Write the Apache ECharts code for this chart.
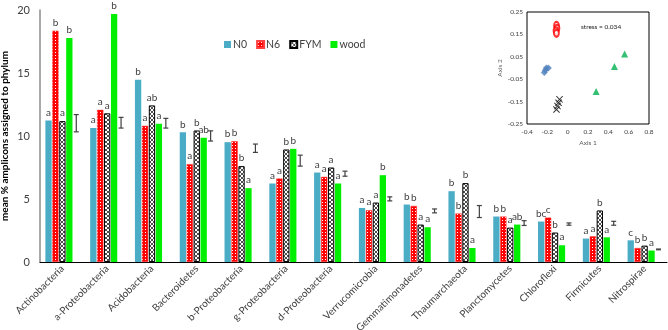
<!DOCTYPE html>
<html>
<head>
<meta charset="utf-8">
<script src="https://cdn.jsdelivr.net/npm/echarts@6/dist/echarts.min.js"></script>
<style>
  html, body { margin: 0; padding: 0; background: #fff; }
  #chart { width: 668px; height: 330px; }
</style>
</head>
<body>
<div id="chart"></div>
<script>
// phyla on the x axis
var categories = ["Actinobacteria", "a-Proteobacteria", "Acidobacteria", "Bacteroidetes",
  "b-Proteobacteria", "g-Proteobacteria", "d-Proteobacteria", "Verrucomicrobia",
  "Gemmatimonadetes", "Thaumarchaeota", "Planctomycetes", "Chloroflexi", "Firmicutes", "Nitrospirae"];

// mean % amplicons per treatment
var n0 = [11.24, 10.63, 14.47, 10.29, 9.51, 6.23, 7.10, 4.29, 4.56, 5.62, 3.61, 3.21, 1.86, 1.72];
var n6 = [18.36, 12.08, 10.81, 7.77, 9.59, 6.63, 6.76, 4.11, 4.45, 3.85, 3.61, 3.53, 2.04, 1.11];
var fym = [11.18, 11.80, 12.43, 10.44, 7.61, 8.93, 7.50, 4.72, 2.97, 6.26, 2.73, 2.34, 4.09, 1.30];
var wood = [17.78, 19.69, 10.97, 9.86, 5.86, 8.98, 6.23, 6.89, 2.76, 1.11, 2.97, 1.33, 1.96, 0.91];

// significance letters
var n0Sig = ["a", "a", "b", "b", "b", "a", "a", "a", "b", "b", "b", "bc", "a", "c"];
var n6Sig = ["b", "a", "a", "a", "b", "a", "a", "a", "b", "b", "b", "c", "a", "b"];
var fymSig = ["a", "a", "ab", "b", "b", "b", "a", "a", "a", "b", "a", "b", "b", "b"];
var woodSig = ["b", "b", "a", "ab", "a", "b", "a", "b", "a", "a", "ab", "a", "a", "a"];

// error bar (LSD) low / high
var errLow = [10.33, 10.63, 10.63, 9.60, 8.70, 7.61, 6.81, 4.85, 3.90, 3.53, 2.90, 2.92, 2.92, 0.97];
var errHigh = [11.70, 11.48, 11.40, 10.41, 9.36, 8.48, 7.21, 5.17, 4.21, 4.48, 3.28, 3.10, 3.23, 1.03];

// inset NMDS points [axis1, axis2]
var nmdsN0 = [[-0.23, -0.02], [-0.21, 0.0], [-0.19, 0.0], [-0.22, -0.01]];
var nmdsN6 = [[-0.11, 0.19], [-0.105, 0.177], [-0.115, 0.166], [-0.11, 0.155]];
var nmdsFym = [[-0.08, -0.14], [-0.09, -0.155], [-0.10, -0.17], [-0.11, -0.185]];
var nmdsWood = [[0.28, -0.105], [0.46, 0.007], [0.56, 0.062]];

var FONT = "Lato";

function makePattern(kind) {
  var c = document.createElement("canvas");
  var ctx = c.getContext("2d");
  if (kind === "dots") {
    c.width = 3; c.height = 3;
    ctx.fillStyle = "#ff0000";
    ctx.fillRect(0, 0, 3, 3);
    ctx.fillStyle = "#ffffff";
    ctx.fillRect(1, 1, 1, 1);
  } else {
    c.width = 4; c.height = 4;
    ctx.fillStyle = "#ffffff";
    ctx.fillRect(0, 0, 4, 4);
    ctx.strokeStyle = "#222";
    ctx.lineWidth = 0.8;
    ctx.beginPath();
    ctx.moveTo(0, 0); ctx.lineTo(4, 4);
    ctx.moveTo(4, 0); ctx.lineTo(0, 4);
    ctx.stroke();
  }
  return { image: c, repeat: "repeat" };
}

function sigLabel(letters) {
  return {
    show: true,
    position: "top",
    distance: 3,
    fontFamily: FONT,
    fontSize: 10,
    color: "#404040",
    formatter: function (p) { return letters[p.dataIndex]; }
  };
}

var chart = echarts.init(document.getElementById("chart"));

var option = {
  animation: false,
  backgroundColor: "#fff",
  textStyle: { fontFamily: FONT },
  legend: {
    data: ["N0", "N6", "FYM", "wood"],
    left: 219,
    top: 34,
    itemWidth: 7,
    itemHeight: 7,
    itemGap: 9,
    icon: "rect",
    textStyle: { fontFamily: FONT, fontSize: 10.5, color: "#404040", padding: [0, 0, 0, -3] }
  },
  grid: [
    { left: 40, right: 1, top: 10, bottom: 68, outerBoundsMode: "none" },
    { left: 527, top: 12, width: 122, height: 112, show: true, borderColor: "#000", borderWidth: 1,
      backgroundColor: "#fff", z: 10, outerBoundsMode: "none" }
  ],
  xAxis: [
    {
      type: "category",
      gridIndex: 0,
      data: categories,
      axisLine: { lineStyle: { color: "#000", width: 1 } },
      axisTick: { show: false },
      axisLabel: { interval: 0, rotate: 45, fontFamily: FONT, fontSize: 10, color: "#404040", margin: 5 }
    },
    {
      type: "value",
      gridIndex: 1,
      min: -0.4, max: 0.8, interval: 0.2,
      name: "Axis 1",
      nameLocation: "middle",
      nameGap: 15,
      nameTextStyle: { fontFamily: FONT, fontSize: 6.5, color: "#595959" },
      axisLine: { show: false },
      axisTick: { show: false },
      splitLine: { show: false },
      axisLabel: { fontFamily: FONT, fontSize: 6.5, color: "#404040", margin: 4,
        formatter: function (v) { return Math.abs(v) < 1e-9 ? "0" : +v.toFixed(1); } },
      z: 11
    }
  ],
  yAxis: [
    {
      type: "value",
      gridIndex: 0,
      min: 0, max: 20, interval: 5,
      name: "mean % amplicons assigned to phylum",
      nameLocation: "middle",
      nameGap: 30,
      nameMoveOverlap: false,
      nameTextStyle: { fontFamily: FONT, fontSize: 10, fontWeight: "bold", color: "#000" },
      axisLine: { show: true, lineStyle: { color: "#8c8c8c", width: 1.5 } },
      axisTick: { show: false },
      splitLine: { show: false },
      axisLabel: { fontFamily: FONT, fontSize: 11, color: "#404040", margin: 10 }
    },
    {
      type: "value",
      gridIndex: 1,
      min: -0.25, max: 0.25, interval: 0.1,
      name: "Axis 2",
      nameLocation: "middle",
      nameGap: 20,
      nameTextStyle: { fontFamily: FONT, fontSize: 6.5, color: "#595959" },
      axisLine: { show: false },
      axisTick: { show: false },
      splitLine: { show: false },
      axisLabel: { fontFamily: FONT, fontSize: 6.5, color: "#404040", margin: 4,
        formatter: function (v) { return v.toFixed(2); } },
      z: 11
    }
  ],
  series: [
    {
      name: "N0", type: "bar", xAxisIndex: 0, yAxisIndex: 0,
      data: n0, barCategoryGap: "24%", barGap: "10%",
      itemStyle: { color: "#4bacc6" },
      label: sigLabel(n0Sig)
    },
    {
      name: "N6", type: "bar", xAxisIndex: 0, yAxisIndex: 0,
      data: n6, barGap: "10%",
      itemStyle: { color: makePattern("dots"), borderColor: "#ff4040", borderWidth: 0.5 },
      label: sigLabel(n6Sig)
    },
    {
      name: "FYM", type: "bar", xAxisIndex: 0, yAxisIndex: 0,
      data: fym, barGap: "10%",
      itemStyle: { color: makePattern("cross"), borderColor: "#000", borderWidth: 1 },
      label: sigLabel(fymSig)
    },
    {
      name: "wood", type: "bar", xAxisIndex: 0, yAxisIndex: 0,
      data: wood, barGap: "10%",
      itemStyle: { color: "#00ee00" },
      label: sigLabel(woodSig)
    },
    {
      // empty slot that reserves room for the error bars
      name: "slot", type: "bar", xAxisIndex: 0, yAxisIndex: 0,
      data: errLow.map(function () { return 0; }), barGap: "10%",
      itemStyle: { color: "rgba(0,0,0,0)" }, silent: true
    },
    {
      // error bars drawn in that fifth slot
      name: "err", type: "custom", xAxisIndex: 0, yAxisIndex: 0,
      data: categories.map(function (c, i) { return [i, errLow[i], errHigh[i]]; }),
      encode: { x: 0, y: [1, 2] },
      renderItem: function (params, api) {
        var i = api.value(0);
        var lo = api.coord([i, api.value(1)]);
        var hi = api.coord([i, api.value(2)]);
        var bw = api.size([1, 0])[0];
        var x = lo[0] + bw * 0.31;
        var cap = 2.5;
        var st = { stroke: "#404040", lineWidth: 1.2 };
        return {
          type: "group",
          children: [
            { type: "line", shape: { x1: x, y1: lo[1], x2: x, y2: hi[1] }, style: st },
            { type: "line", shape: { x1: x - cap, y1: lo[1], x2: x + cap, y2: lo[1] }, style: st },
            { type: "line", shape: { x1: x - cap, y1: hi[1], x2: x + cap, y2: hi[1] }, style: st }
          ]
        };
      }
    },
    {
      name: "nmdsN0", type: "scatter", xAxisIndex: 1, yAxisIndex: 1,
      data: nmdsN0, symbol: "diamond", symbolSize: 7,
      itemStyle: { color: "#4f81bd" }, z: 12
    },
    {
      name: "nmdsN6", type: "scatter", xAxisIndex: 1, yAxisIndex: 1,
      data: nmdsN6, symbol: "emptyCircle", symbolSize: [5, 7],
      itemStyle: { color: "#ff0000", borderWidth: 1 }, z: 12
    },
    {
      name: "nmdsFym", type: "scatter", xAxisIndex: 1, yAxisIndex: 1,
      data: nmdsFym,
      symbol: "path://M0,1L1,0L5,4L9,0L10,1L6,5L10,9L9,10L5,6L1,10L0,9L4,5Z",
      symbolSize: 7,
      itemStyle: { color: "#000" }, z: 12
    },
    {
      name: "nmdsWood", type: "scatter", xAxisIndex: 1, yAxisIndex: 1,
      data: nmdsWood, symbol: "triangle", symbolSize: 7,
      itemStyle: { color: "#00b050" }, z: 12
    }
  ],
  graphic: [
    {
      type: "text", left: 581, top: 23, z: 20,
      style: { text: "stress = 0.034", fontFamily: FONT, fontSize: 6.5, fill: "#222" }
    }
  ]
};

chart.setOption(option);
</script>
</body>
</html>
